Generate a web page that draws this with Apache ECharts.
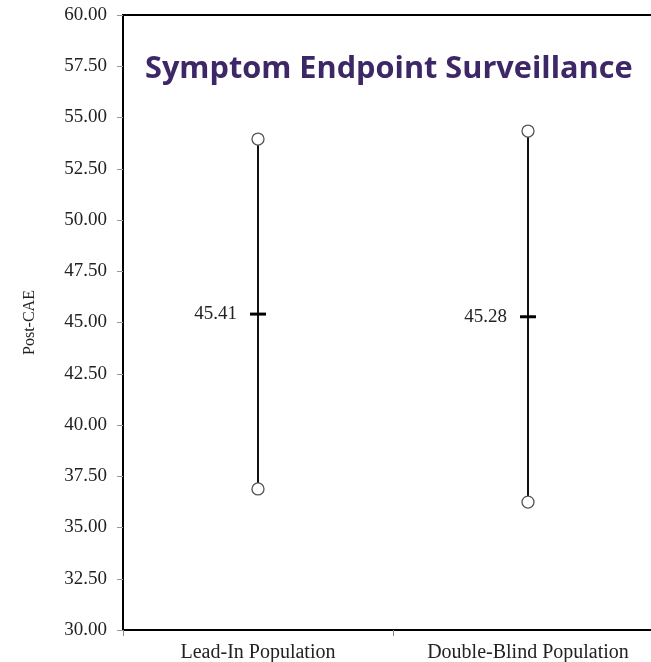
<!DOCTYPE html>
<html>
<head>
<meta charset="utf-8">
<script src="https://cdn.jsdelivr.net/npm/echarts@6/dist/echarts.min.js"></script>
<style>
  html, body { margin: 0; padding: 0; background: #fff; }
  #chart { width: 651px; height: 662px; }
</style>
</head>
<body>
<div id="chart"></div>
<script>
// Post-CAE interval summary per population
const categories = ['Lead-In Population', 'Double-Blind Population'];
const means = [45.41, 45.28];
const upper = [53.95, 54.34];
const lower = [36.88, 36.24];
const yTicks = [30, 32.5, 35, 37.5, 40, 42.5, 45, 47.5, 50, 52.5, 55, 57.5, 60];

const serif = '"Liberation Serif", "DejaVu Serif", serif';
const chart = echarts.init(document.getElementById('chart'));

const intervalData = categories.map((c, i) => [i, means[i], lower[i], upper[i]]);

chart.setOption({
  animation: false,
  title: {
    text: 'Symptom Endpoint Surveillance',
    left: 140,
    top: 49,
    textStyle: {
      fontFamily: '"Open Sans", Lato, sans-serif',
      fontWeight: 'bold',
      fontSize: 30.7,
      color: '#3d2766'
    }
  },
  // plot box runs past the right edge of the canvas
  grid: {
    left: 123, width: 540, top: 15, bottom: 32,
    outerBoundsMode: 'none',
    show: true, borderColor: '#000', borderWidth: 2, backgroundColor: 'transparent'
  },
  xAxis: {
    type: 'category',
    data: categories,
    boundaryGap: true,
    axisLine: { lineStyle: { color: '#000', width: 2 } },
    axisTick: { show: true, length: 6, lineStyle: { color: '#888' } },
    axisLabel: { fontFamily: serif, fontSize: 20, color: '#222', margin: 13 },
    splitLine: { show: false }
  },
  yAxis: {
    type: 'value',
    min: yTicks[0],
    max: yTicks[yTicks.length - 1],
    interval: 2.5,
    name: 'Post-CAE',
    nameLocation: 'middle',
    nameGap: 85,
    nameTextStyle: { fontFamily: serif, fontSize: 16, color: '#222' },
    axisLine: { show: true, lineStyle: { color: '#000', width: 2 } },
    axisTick: { show: true, length: 6, lineStyle: { color: '#999' } },
    axisLabel: { fontFamily: serif, fontSize: 19, color: '#222', margin: 16, formatter: v => v.toFixed(2) },
    splitLine: { show: false }
  },
  series: [{
    type: 'custom',
    data: intervalData,
    encode: { x: 0, y: [1, 2, 3] },
    renderItem: function (params, api) {
      const x = api.value(0);
      const m = api.coord([x, api.value(1)]);
      const lo = api.coord([x, api.value(2)]);
      const hi = api.coord([x, api.value(3)]);
      const r = 6;
      return {
        type: 'group',
        children: [
          { type: 'line', shape: { x1: m[0], y1: hi[1] + r, x2: m[0], y2: lo[1] - r }, style: { stroke: '#111', lineWidth: 2 } },
          { type: 'line', shape: { x1: m[0] - 8, y1: m[1], x2: m[0] + 8, y2: m[1] }, style: { stroke: '#000', lineWidth: 3 } },
          { type: 'circle', shape: { cx: hi[0], cy: hi[1], r: r }, style: { fill: '#fff', stroke: '#555', lineWidth: 1.3 } },
          { type: 'circle', shape: { cx: lo[0], cy: lo[1], r: r }, style: { fill: '#fff', stroke: '#555', lineWidth: 1.3 } },
          { type: 'text', x: m[0] - 21, y: m[1], style: { text: api.value(1).toFixed(2), align: 'right', verticalAlign: 'middle', fontFamily: serif, fontSize: 19, fill: '#222' } }
        ]
      };
    }
  }]
});
</script>
</body>
</html>
